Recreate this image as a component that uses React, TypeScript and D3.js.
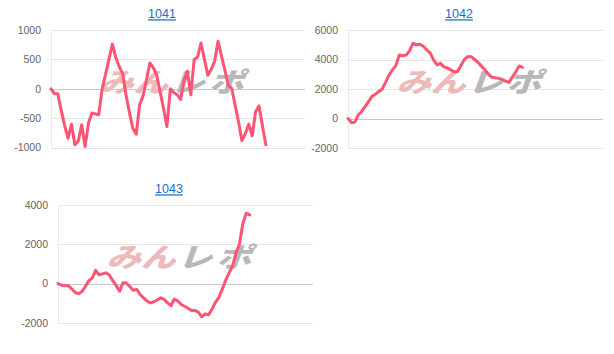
import React from "react";
import * as d3 from "d3";

const titles = ["1041", "1042", "1043"];

const values1041 = [
  0, -80, -85, -370, -620, -840, -600, -950, -890, -610, -980, -580, -410, -425, -440, 0,
  245, 500, 760, 530, 380, 260, -100, -400, -670, -770, -270, -120, 150, 440, 360, 230,
  -50, -330, -640, 0, -60, -100, -180, 130, 300, -100, 500, 540, 780, 500, 230, 330,
  470, 810, 560, 320, 60, 10, -280, -560, -880, -760, -600, -800, -390, -290, -620, -950,
];

const values1042 = [
  0, -270, -250, 240, 480, 800, 1140, 1500, 1650, 1830, 2000, 2450, 2950, 3300, 3600, 4300,
  4250, 4300, 4600, 5100, 5000, 5030, 4900, 4650, 4450, 3970, 3630, 3740, 3500, 3430, 3300, 3170,
  3180, 3600, 4000, 4200, 4190, 4000, 3800, 3550, 3300, 3000, 2800, 2760, 2720, 2650, 2540, 2450,
  2800, 3150, 3560, 3470,
];

const values1043 = [
  0, -80, -110, -100, -260, -450, -510, -400, -150, 150, 280, 680, 450, 500, 550, 440,
  150, -100, -380, 50, 30, -150, -340, -290, -550, -720, -880, -980, -920, -830, -720, -800,
  -980, -1120, -780, -880, -1060, -1150, -1250, -1360, -1360, -1450, -1690, -1540, -1580, -1300, -950, -700,
  -280, 180, 550, 900, 1570, 2000, 3050, 3580, 3500,
];

const ticks1041 = [-1000, -500, 0, 500, 1000];
const ticks1042 = [-2000, 0, 2000, 4000, 6000];
const ticks1043 = [-2000, 0, 2000, 4000];

const X_MAX = 74.5;

type Panel = {
  title: string;
  values: number[];
  ticks: number[];
  left: number;
  right: number;
  top: number;
  bottom: number;
  titleX: number;
  titleY: number;
};

const panels: Panel[] = [
  { title: titles[0], values: values1041, ticks: ticks1041, left: 51, right: 305, top: 30, bottom: 147.7, titleX: 162, titleY: 18.3 },
  { title: titles[1], values: values1042, ticks: ticks1042, left: 348, right: 603, top: 30, bottom: 148, titleX: 459, titleY: 18.3 },
  { title: titles[2], values: values1043, ticks: ticks1043, left: 58, right: 313, top: 205, bottom: 323, titleX: 169, titleY: 193.3 },
];

function ChartPanel({ p }: { p: Panel }) {
  const x = d3.scaleLinear().domain([0, X_MAX]).range([p.left, p.right]);
  const y = d3
    .scaleLinear()
    .domain([p.ticks[0], p.ticks[p.ticks.length - 1]])
    .range([p.bottom, p.top]);
  const line = d3
    .line<number>()
    .x((_, i) => x(i))
    .y((d) => y(d));
  const cx = (p.left + p.right) / 2;
  const cy = (p.top + p.bottom) / 2 - 7;
  return (
    <g>
      <text
        x={p.titleX}
        y={p.titleY}
        textAnchor="middle"
        fontFamily="Liberation Sans, Arial, sans-serif"
        fontSize={12.5}
        fill="#1a6fc9"
        textDecoration="underline"
      >
        {p.title}
      </text>
      <line x1={p.left + 0.5} x2={p.left + 0.5} y1={p.top} y2={p.bottom} stroke="#ebebeb" strokeWidth={1} />
      {p.ticks.map((t) => (
        <g key={t}>
          <line
            x1={p.left}
            x2={p.right}
            y1={Math.round(y(t)) + 0.5}
            y2={Math.round(y(t)) + 0.5}
            stroke={t === 0 ? "#c9c9c9" : "#e6e6e6"}
            strokeWidth={1}
          />
          <text
            x={p.left - 10}
            y={y(t)}
            dy="0.35em"
            textAnchor="end"
            fontFamily="Liberation Sans, Arial, sans-serif"
            fontSize={10.5}
            fill="#666"
          >
            {t}
          </text>
        </g>
      ))}
      <g
        transform={`translate(${cx},${cy}) scale(1.08,0.84) skewX(-16)`}
        fontFamily="Noto Sans CJK JP"
        fontWeight={900}
        fontSize={32}
      >
        <text x={-70} y={12} fill="#ecbaba">
          みん
        </text>
        <text x={-4} y={12} fill="#b8b8b8" letterSpacing={4}>
          レポ
        </text>
      </g>
      <path
        d={line(p.values) || ""}
        fill="none"
        stroke="#ff5473"
        strokeWidth={3}
        strokeLinejoin="round"
        strokeLinecap="round"
      />
    </g>
  );
}

export default function App() {
  return (
    <svg
      width={614}
      height={354}
      style={{ position: "absolute", left: 0, top: 0, background: "#fff" }}
    >
      {panels.map((p) => (
        <ChartPanel key={p.title} p={p} />
      ))}
    </svg>
  );
}
